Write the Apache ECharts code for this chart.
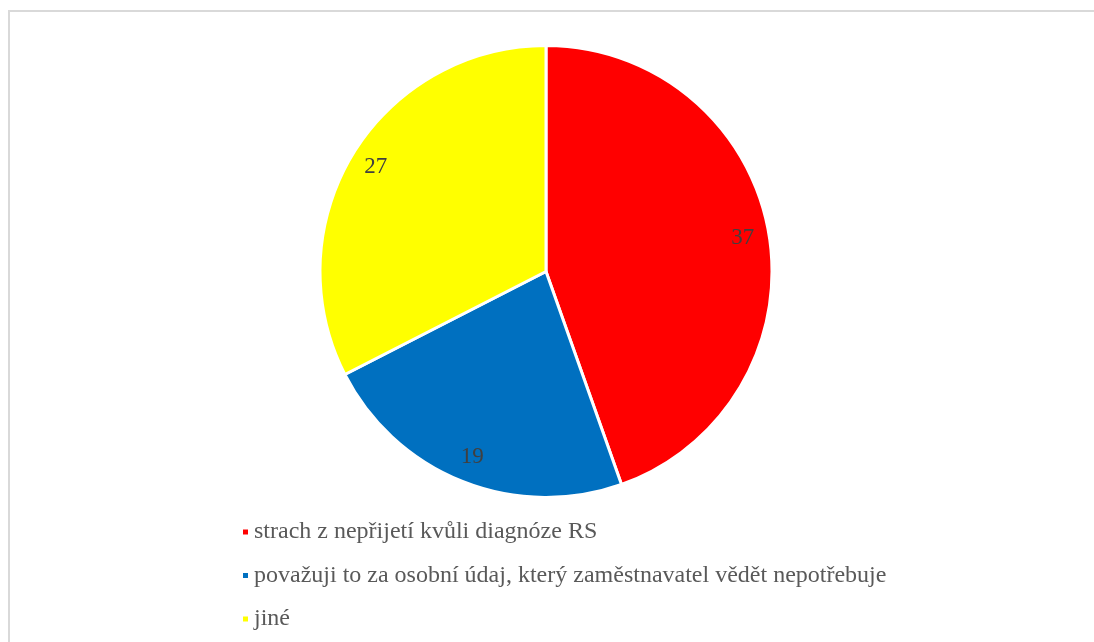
<!DOCTYPE html>
<html>
<head>
<meta charset="utf-8">
<script src="https://cdn.jsdelivr.net/npm/echarts@6/dist/echarts.min.js"></script>
<style>
  html, body { margin: 0; padding: 0; background: #fff; }
  #chart { width: 1094px; height: 642px; }
</style>
</head>
<body>
<div id="chart"></div>
<script>
// Reasons for not telling the employer about the RS diagnosis
const categories = [
  'strach z nepřijetí kvůli diagnóze RS',
  'považuji to za osobní údaj, který zaměstnavatel vědět nepotřebuje',
  'jiné'
];
const values = [37, 19, 27];
const colors = ['#ff0000', '#0070c0', '#ffff00'];

const serif = '"Liberation Serif", "Times New Roman", serif';
const center = [546, 271.5];
const radius = 226;

const slices = categories.map((name, i) => ({
  name: name,
  value: values[i],
  itemStyle: { color: colors[i] }
}));

const chart = echarts.init(document.getElementById('chart'));
chart.setOption({
  animation: false,
  backgroundColor: '#ffffff',
  graphic: [{
    type: 'rect',
    shape: { x: 9, y: 11, width: 1200, height: 800 },
    style: { fill: 'none', stroke: '#d9d9d9', lineWidth: 2 },
    silent: true
  }],
  legend: {
    orient: 'vertical',
    left: 236,
    top: 515,
    icon: 'rect',
    itemWidth: 7,
    itemHeight: 7,
    itemGap: 19.5,
    textStyle: { fontFamily: serif, fontSize: 24, color: '#595959' },
    data: categories
  },
  series: [
    {
      type: 'pie',
      center: center,
      radius: [0, radius],
      startAngle: 90,
      clockwise: true,
      itemStyle: { borderColor: '#ffffff', borderWidth: 3 },
      label: { show: false },
      labelLine: { show: false },
      emphasis: { disabled: true },
      data: slices
    },
    {
      // transparent ring used only to place the value labels near the rim
      type: 'pie',
      center: center,
      radius: [radius * 0.74, radius],
      startAngle: 90,
      clockwise: true,
      silent: true,
      itemStyle: { color: 'rgba(0,0,0,0)' },
      label: {
        show: true,
        position: 'inside',
        formatter: '{c}',
        fontFamily: serif,
        fontSize: 23,
        color: '#404040'
      },
      labelLine: { show: false },
      emphasis: { disabled: true },
      data: categories.map((name, i) => ({ name: name, value: values[i] }))
    }
  ]
});
</script>
</body>
</html>
